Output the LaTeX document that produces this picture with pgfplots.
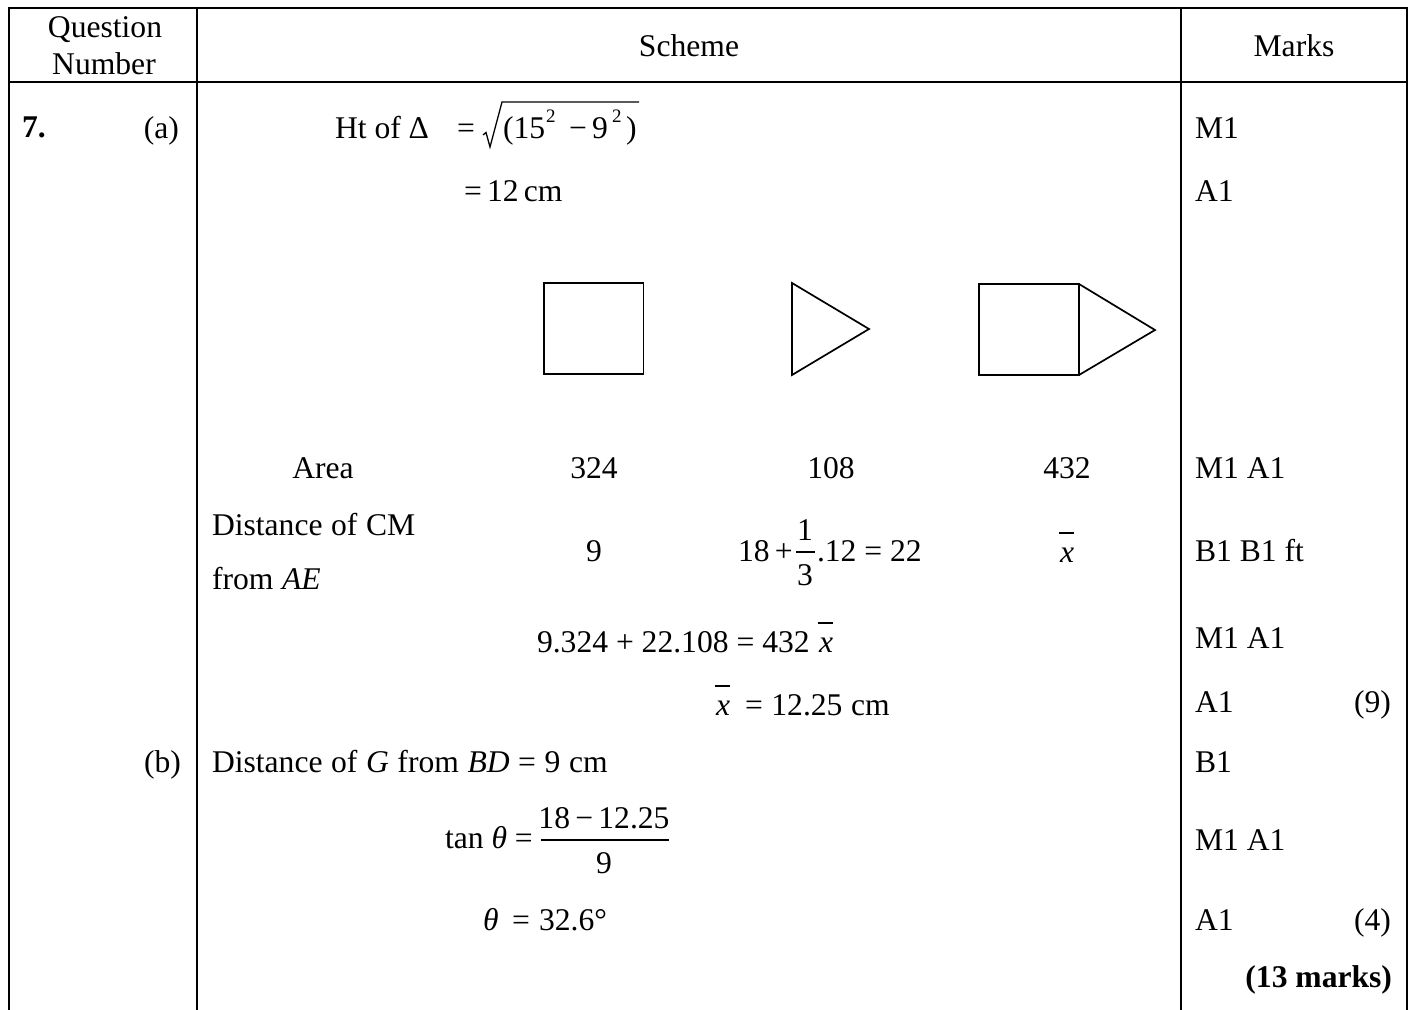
\documentclass[border=0pt]{standalone}
\usepackage{fontspec}
\setmainfont{Liberation Serif}
\usepackage{pgfplots}
\pgfplotsset{compat=1.18}

% overbar x as in the scheme
\newcommand{\xb}{\textit{x}\llap{\raisebox{0.9em}{\rule{0.48em}{0.045em}}}}
\newcommand{\sq}{\fontsize{9.5}{12}\selectfont 2}
\newcommand{\wide}{\spaceskip=0.272em\relax}

\tikzset{
    tablerule/.style={black, line width=1pt, line cap=rect},
    figline/.style={black, line width=0.85pt, line join=miter},
    thinrule/.style={black, line width=0.65pt},
    tL/.style={anchor=base west},
    tC/.style={anchor=base},
    tR/.style={anchor=base east},
}

\begin{document}
\begin{tikzpicture}
\begin{axis}[
    scale only axis,
    width=706pt, height=505pt,
    xmin=0, xmax=1412,
    ymin=0, ymax=1010,
    y dir=reverse,
    hide axis,
    clip=true,
    no markers,
    nodes={inner sep=0pt, outer sep=0pt, font=\fontsize{15.8}{18}\selectfont},
]
% keeps the whole page in the picture
\path (axis cs:0,0) rectangle (axis cs:1412,1010);

% table frame
\addplot[tablerule] coordinates {(9,8)(1407,8)};
\addplot[tablerule] coordinates {(9,82.5)(1407,82.5)};
\addplot[tablerule] coordinates {(9,8)(9,1010)};
\addplot[tablerule] coordinates {(197,8)(197,1010)};
\addplot[tablerule] coordinates {(1181,8)(1181,1010)};
\addplot[tablerule] coordinates {(1407,8)(1407,1010)};

% square, triangle, square with triangle
\addplot[figline] coordinates {(544,283)(643.5,283)(643.5,374)(544,374)(544,283)(643.5,283)};
\addplot[figline] coordinates {(792,283)(869,329)(792,375)(792,283)(869,329)};
\addplot[figline] coordinates {(979,284)(1079,284)(1079,375)(979,375)(979,284)(1079,284)};
\addplot[figline] coordinates {(1079,284)(1155,330)(1079,375)};

% radical and fraction rules
\addplot[thinrule] coordinates {(483,135)(486,132.5)(490,147)(502,102)(639,102)};
\addplot[thinrule] coordinates {(796,552)(815,552)};
\addplot[thinrule] coordinates {(541,840)(669,840)};

% header
\node[tC] at (axis cs:105,38) {Question};
\node[tC] at (axis cs:104,75) {Number};
\node[tC] at (axis cs:689,57) {Scheme};
\node[tC] at (axis cs:1294,57) {Marks};

% part (a)
\node[tL] at (axis cs:22,138) {\textbf{7.}};
\node[tR] at (axis cs:179,139) {(a)};
\node[tL] at (axis cs:335,139) {Ht of Δ};
\node[tL] at (axis cs:457,139) {=};
\node[tL] at (axis cs:503,139) {(15};
\node[tL] at (axis cs:546,123) {\sq};
\node[tC] at (axis cs:578,139) {−};
\node[tL] at (axis cs:592,139) {9};
\node[tL] at (axis cs:612,123) {\sq};
\node[tL] at (axis cs:626,139) {)};
\node[tL] at (axis cs:464,202) {=\,12\,cm};

\node[tC] at (axis cs:323,478) {Area};
\node[tC] at (axis cs:594,478) {324};
\node[tC] at (axis cs:831,478) {108};
\node[tC] at (axis cs:1067,478) {432};

\node[tL] at (axis cs:212,535) {\wide Distance of CM};
\node[tL] at (axis cs:212,589) {\wide from \textit{AE}};
\node[tC] at (axis cs:594,561) {9};
\node[tL] at (axis cs:738,561) {18\,+};
\node[tC] at (axis cs:805,540) {1};
\node[tC] at (axis cs:805,585) {3};
\node[tL] at (axis cs:817,561) {.12 = 22};
\node[tC] at (axis cs:1067,562) {\xb};

\node[tL] at (axis cs:537,652) {9.324 + 22.108 = 432};
\node[tL] at (axis cs:819,652) {\xb};
\node[tL] at (axis cs:716,715) {\xb};
\node[tL] at (axis cs:745,715) {\wide = 12.25 cm};

% part (b)
\node[tR] at (axis cs:181,772) {(b)};
\node[tL] at (axis cs:212,772) {\wide Distance of \textit{G} from \textit{BD} = 9 cm};
\node[tL] at (axis cs:445,848) {tan \textit{θ} =};
\node[tC] at (axis cs:604,828) {18\,−\,12.25};
\node[tC] at (axis cs:604,873) {9};
\node[tL] at (axis cs:483,930) {\textit{θ}};
\node[tL] at (axis cs:512,930) {=};
\node[tL] at (axis cs:539,930) {32.6°};

% marks column
\node[tL] at (axis cs:1195,139) {M1};
\node[tL] at (axis cs:1195,202) {A1};
\node[tL] at (axis cs:1195,478) {M1 A1};
\node[tL] at (axis cs:1195,561) {B1 B1 ft};
\node[tL] at (axis cs:1195,648) {M1 A1};
\node[tL] at (axis cs:1195,712) {A1};
\node[tR] at (axis cs:1391,712) {(9)};
\node[tL] at (axis cs:1195,772) {B1};
\node[tL] at (axis cs:1195,850) {M1 A1};
\node[tL] at (axis cs:1195,930) {A1};
\node[tR] at (axis cs:1391,930) {(4)};
\node[tR] at (axis cs:1392,987) {\textbf{(13 marks)}};
\end{axis}
\end{tikzpicture}
\end{document}
